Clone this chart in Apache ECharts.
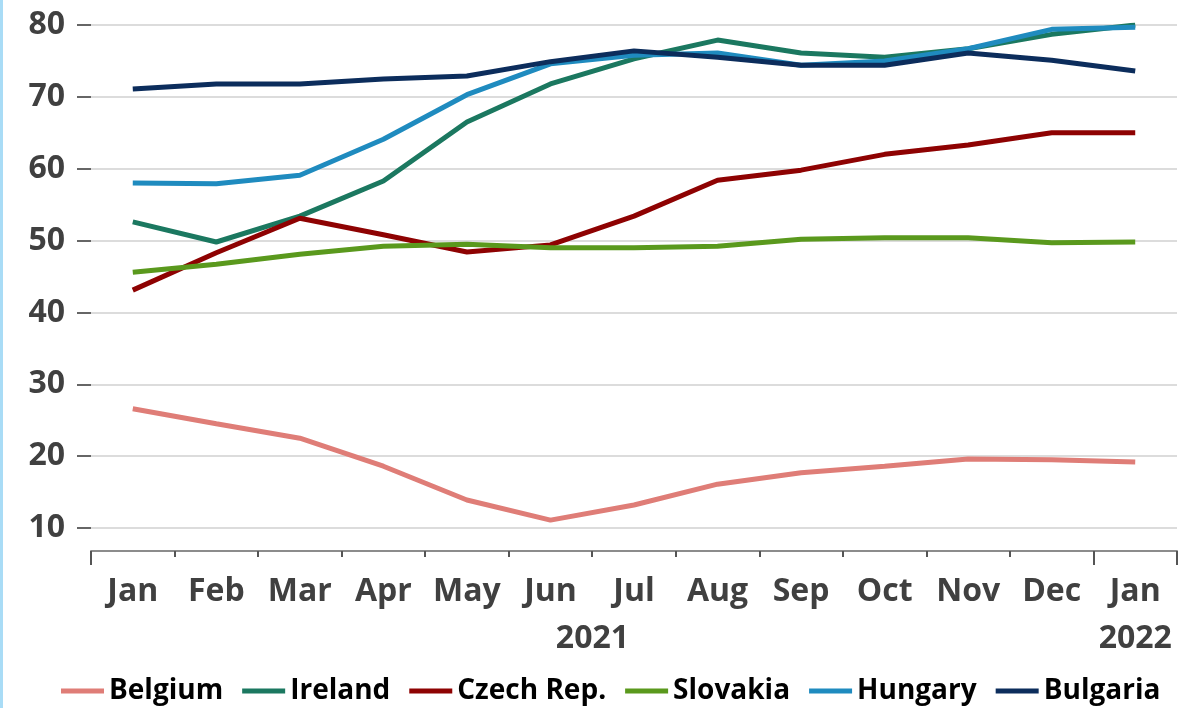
<!DOCTYPE html>
<html>
<head>
<meta charset="utf-8">
<script src="https://cdn.jsdelivr.net/npm/echarts@6/dist/echarts.min.js"></script>
<style>
  html, body { margin: 0; padding: 0; background: #fff; }
  #chart { width: 1199px; height: 708px; box-sizing: border-box; border-left: 3px solid #a9dcf6; }
</style>
</head>
<body>
<div id="chart"></div>
<script>
const months = ["Jan", "Feb", "Mar", "Apr", "May", "Jun", "Jul", "Aug", "Sep", "Oct", "Nov", "Dec", "Jan"];
const yearLabels = ["", "", "", "", "", "2021", "", "", "", "", "", "", "2022"];

const belgium = [26.6, 24.5, 22.5, 18.6, 13.9, 11.1, 13.2, 16.1, 17.7, 18.6, 19.6, 19.5, 19.2];
const ireland = [52.6, 49.8, 53.4, 58.3, 66.5, 71.8, 75.3, 77.9, 76.1, 75.5, 76.7, 78.7, 80.0];
const czechRep = [43.1, 48.3, 53.1, 50.8, 48.4, 49.4, 53.4, 58.4, 59.8, 62.0, 63.3, 65.0, 65.0];
const slovakia = [45.6, 46.7, 48.1, 49.2, 49.5, 49.0, 49.0, 49.2, 50.2, 50.4, 50.4, 49.7, 49.8];
const hungary = [58.0, 57.9, 59.1, 64.1, 70.3, 74.6, 75.8, 76.1, 74.4, 75.0, 76.7, 79.4, 79.7];
const bulgaria = [71.1, 71.8, 71.8, 72.5, 72.9, 74.9, 76.4, 75.5, 74.4, 74.4, 76.1, 75.1, 73.6];

const seriesDefs = [
  { name: "Belgium", data: belgium, color: "#df7d77" },
  { name: "Ireland", data: ireland, color: "#1b7860" },
  { name: "Czech Rep.", data: czechRep, color: "#8e0202" },
  { name: "Slovakia", data: slovakia, color: "#5a991d" },
  { name: "Hungary", data: hungary, color: "#1f8bbf" },
  { name: "Bulgaria", data: bulgaria, color: "#0c2d5c" },
];

const font = "'Open Sans', 'Noto Sans', sans-serif";
const labelColor = "#404040";

const chart = echarts.init(document.getElementById("chart"), null, { renderer: "canvas" });

chart.setOption({
  animation: false,
  grid: { left: 88, right: 22, top: 25, bottom: 180, containLabel: false },
  legend: {
    bottom: -2,
    left: 53,
    itemWidth: 43,
    itemHeight: 5,
    itemGap: 19,
    icon: "rect",
    textStyle: { fontFamily: font, fontWeight: "bold", fontSize: 28, color: "#000" },
    data: seriesDefs.map((s) => s.name),
  },
  xAxis: [
    {
      type: "category",
      data: months,
      boundaryGap: true,
      offset: 23,
      axisLine: { lineStyle: { color: "#8c8c8c", width: 2 } },
      axisTick: { show: true, length: 6, lineStyle: { color: "#555", width: 2 } },
      axisLabel: { interval: 0, margin: 25, fontFamily: font, fontWeight: "bold", fontSize: 32, color: labelColor },
    },
    {
      type: "category",
      data: yearLabels,
      position: "bottom",
      boundaryGap: true,
      offset: 23,
      axisLine: { show: false },
      axisTick: {
        show: true,
        length: 14,
        interval: (i) => i === 0 || i === 12,
        lineStyle: { color: "#555", width: 2 },
      },
      axisLabel: {
        interval: 0,
        margin: 72,
        fontFamily: font,
        fontWeight: "bold",
        fontSize: 32,
        color: labelColor,
        formatter: (v) => (v === "2021" ? "{shift|" + v + "}" : v),
        rich: {
          shift: { padding: [0, 0, 0, 84], fontFamily: font, fontWeight: "bold", fontSize: 32, color: labelColor },
        },
      },
    },
  ],
  yAxis: {
    type: "value",
    min: 10,
    max: 80,
    interval: 10,
    axisLine: { show: false },
    axisTick: { show: true, length: 14, lineStyle: { color: "#666", width: 2 } },
    splitLine: { lineStyle: { color: "#dcdcdc", width: 2 } },
    axisLabel: { margin: 26, fontFamily: font, fontWeight: "bold", fontSize: 32, color: labelColor },
  },
  series: seriesDefs.map((s) => ({
    name: s.name,
    type: "line",
    data: s.data,
    xAxisIndex: 0,
    showSymbol: false,
    symbol: "none",
    lineStyle: { color: s.color, width: 5 },
    itemStyle: { color: s.color },
  })),
});
</script>
</body>
</html>
